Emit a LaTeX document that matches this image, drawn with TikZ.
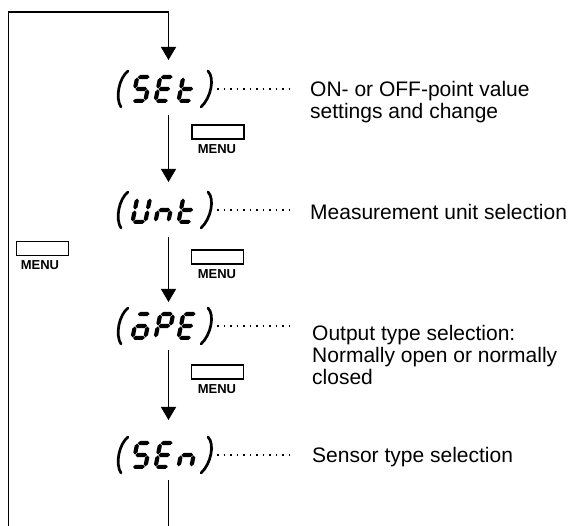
\documentclass[tikz,border=0pt]{standalone}
\usepackage{fontspec}
\setmainfont{Liberation Sans}
\usetikzlibrary{arrows.meta}
% seven-segment helpers (half thickness 2.1)
\newcommand\hseg[3]{\fill (#1,#3)--({#1+2.1},{#3+2.1})--({#2-2.1},{#3+2.1})--(#2,#3)--({#2-2.1},{#3-2.1})--({#1+2.1},{#3-2.1})--cycle;}
\newcommand\vseg[3]{\fill (#1,#2)--({#1+2.1},{#2+2.1})--({#1+2.1},{#3-2.1})--(#1,#3)--({#1-2.1},{#3-2.1})--({#1-2.1},{#2+2.1})--cycle;}
\newcommand\sgA{\hseg{2.6}{14.4}{25.9}}
\newcommand\sgG{\hseg{2.6}{14.4}{14}}
\newcommand\sgD{\hseg{2.6}{14.4}{2.1}}
\newcommand\sgF{\vseg{2.1}{14.5}{25.4}}
\newcommand\sgB{\vseg{14.9}{14.5}{25.4}}
\newcommand\sgE{\vseg{2.1}{2.6}{13.5}}
\newcommand\sgC{\vseg{14.9}{2.6}{13.5}}
\newcommand\digitat[3]{\begin{scope}[shift={(#1,#2)},xslant=0.2]#3\end{scope}}
\newcommand\parens[1]{%
  \draw[parenline] (128,{#1+32}) .. controls (119,{#1+25}) and (115,{#1+5}) .. (121,{#1-4});
  \draw[parenline] (208,{#1+32}) .. controls (215,{#1+25}) and (211,{#1+5}) .. (201,{#1-4});}
\begin{document}
\begin{tikzpicture}[x=1pt,y=1pt,
  line/.style={line width=1.3pt},
  arr/.style={line width=1.3pt,-{Triangle[length=13pt,width=15pt]}},
  parenline/.style={line width=2.7pt,line cap=round},
  dotline/.style={line width=1.7pt,dash pattern=on 1.6pt off 4.9pt},
  menubox/.style={draw,line width=1.3pt,minimum width=52pt,minimum height=14pt,inner sep=0pt},
  menutxt/.style={font=\fontsize{13}{13}\selectfont\bfseries,inner sep=0pt},
  desc/.style={font=\fontsize{21}{22}\selectfont,align=left,inner sep=0pt,anchor=base west},
  glyphbox/.style={minimum width=102pt,minimum height=36pt,inner sep=0pt}]
\useasboundingbox (0,0) rectangle (573,526);

% invisible glyph boxes
\node[glyphbox] (set) at (166,437) {};
\node[glyphbox] (unt) at (166,316) {};
\node[glyphbox] (ope) at (166,200) {};
\node[glyphbox] (sen) at (166,71) {};

% (SEt)
\parens{423}
\digitat{130}{423}{\sgA\sgF\sgG\sgC\sgD}
\digitat{153}{423}{\sgA\sgF\sgG\sgE\sgD}
\digitat{176}{423}{\sgF\sgE\sgG\sgD}
% (Unt)
\parens{302}
\digitat{130}{302}{\sgB\sgC\sgD\sgE\sgF}
\digitat{153}{302}{\sgE\sgG\sgC}
\digitat{176}{302}{\sgF\sgE\sgG\sgD}
% (oPE)
\parens{186}
\digitat{130}{186}{\sgA\sgG\sgC\sgD\sgE}
\digitat{153}{186}{\sgA\sgB\sgF\sgG\sgE}
\digitat{176}{186}{\sgA\sgF\sgG\sgE\sgD}
% (SEn)
\parens{57}
\digitat{130}{57}{\sgA\sgF\sgG\sgC\sgD}
\digitat{153}{57}{\sgA\sgF\sgG\sgE\sgD}
\digitat{176}{57}{\sgE\sgG\sgC}

% dotted leaders
\draw[dotline] (set.east) -- ++(73,0);
\draw[dotline] (unt.east) -- ++(73,0);
\draw[dotline] (ope.east) -- ++(73,0);
\draw[dotline] (sen.east) -- ++(73,0);

% descriptions (base anchor = last line)
\node[desc] (tset) at (310,407) {ON- or OFF-point value\\settings and change};
\node[desc] (tunt) at (310,306) {Measurement unit selection};
\node[desc] (tope) at (312,141) {Output type selection:\\Normally open or normally\\closed};
\node[desc] (tsen) at (312,63) {Sensor type selection};

% MENU keys
\node[menubox] (m1) at (218,394) {};
\node[menutxt] (m1t) at (217,377) {MENU};
\node[menubox] (m2) at (217.5,269) {};
\node[menutxt] (m2t) at (217,252) {MENU};
\node[menubox] (m3) at (217.5,154) {};
\node[menutxt] (m3t) at (217,137) {MENU};
\node[menubox] (m0) at (42.5,277.5) {};
\node[menutxt] (m0t) at (40,261) {MENU};

% flow lines
\coordinate (loopA) at (8.5,0);
\coordinate (loopB) at (8.5,514);
\coordinate (loopC) at (168.5,514);
\coordinate (setT) at (168.5,466);
\coordinate (setB) at (168.5,411);
\coordinate (untT) at (168.5,344);
\coordinate (untB) at (168.5,289);
\coordinate (opeT) at (168.5,224);
\coordinate (opeB) at (168.5,176);
\coordinate (senT) at (168.5,106);
\coordinate (senB) at (168.5,46);
\coordinate (endB) at (168.5,0);
\draw[arr] (loopA) -- (loopB) -- (loopC) -- (setT);
\draw[arr] (setB) -- (untT);
\draw[arr] (untB) -- (opeT);
\draw[arr] (opeB) -- (senT);
\draw[line] (senB) -- (endB);
\end{tikzpicture}
\end{document}
